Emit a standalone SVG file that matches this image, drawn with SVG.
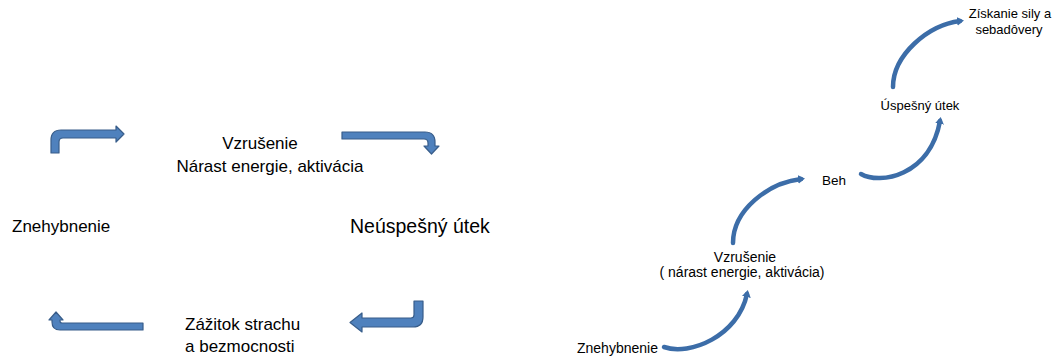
<svg xmlns="http://www.w3.org/2000/svg" width="1054" height="358" viewBox="0 0 1054 358">
<style>
.t{font-family:"Liberation Sans",Arial,sans-serif;fill:#000}
.big{font-size:17px}
.sm{font-size:14px}
.blk{fill:#4F81BD;stroke:#385D8A;stroke-width:1.2;stroke-linejoin:round}
.cur{fill:none;stroke:#3C6DA8;stroke-width:4.5;stroke-linecap:round}
</style>
<defs>
<marker id="hd" markerUnits="userSpaceOnUse" markerWidth="12" markerHeight="12" refX="3" refY="6" orient="auto">
<path d="M0,1.5 L7,6 L0,10.5 Z" fill="#3C6DA8"/>
</marker>
</defs>
<rect width="1054" height="358" fill="#fff"/>
<g id="connectors">
<path class="blk" d="M51,153 V140 Q51,130 61,130 H116 V126 L124,134 L116,142 V138 H63 Q59,138 59,142 V153 Z"/>
<path class="blk" d="M342,132 H425 Q435,132 435,142 V146 H439 L431.5,154 L424,146 H428 V143 Q428,139 424,139 H342 Z"/>
<path class="blk" d="M423,301 V317 Q423,327 413,327 H362 V332 L350,322.5 L362,313 V318 H411 Q414,318 414,315 V301 Z"/>
<path class="blk" d="M143,323 H62 Q60,323 60,321 V320 H63 L56,312 L49,320 H52 V322 Q52,330 60,330 H143 Z"/>
<path class="cur" marker-end="url(#hd)" d="M664,347 C690,356 738,336 747,294"/>
<path class="cur" marker-end="url(#hd)" d="M733,243 C733,210 768,183 801,179"/>
<path class="cur" marker-end="url(#hd)" d="M861,174 C880,185 930,176 940,121"/>
<path class="cur" marker-end="url(#hd)" d="M893,87 C893,55 928,25 960,21"/>
</g>
<g id="n-vzrusenie-left">
<text class="t big" x="260" y="149" text-anchor="middle">Vzrušenie</text>
<text class="t big" x="270" y="172" text-anchor="middle">Nárast energie, aktivácia</text>
</g>
<g id="n-znehybnenie-left"><text class="t big" x="12" y="232">Znehybnenie</text></g>
<g id="n-neuspesny"><text class="t" style="font-size:19.5px" x="350" y="233">Neúspešný útek</text></g>
<g id="n-zazitok">
<text class="t big" x="185" y="330">Zážitok strachu</text>
<text class="t big" x="185" y="352">a bezmocnosti</text>
</g>
<g id="n-znehybnenie-right"><text class="t sm" x="577" y="353">Znehybnenie</text></g>
<g id="n-vzrusenie-right">
<text class="t sm" x="745" y="262" text-anchor="middle">Vzrušenie</text>
<text class="t sm" x="742" y="277" text-anchor="middle">( nárast energie, aktivácia)</text>
</g>
<g id="n-beh"><text class="t" style="font-size:13.5px" x="822" y="185">Beh</text></g>
<g id="n-uspesny"><text class="t" style="font-size:13px" x="920" y="110" text-anchor="middle">Úspešný útek</text></g>
<g id="n-ziskanie">
<text class="t" style="font-size:13px" x="1010" y="18" text-anchor="middle">Získanie sily a</text>
<text class="t" style="font-size:13px" x="1009" y="34" text-anchor="middle">sebadôvery</text>
</g>
</svg>
